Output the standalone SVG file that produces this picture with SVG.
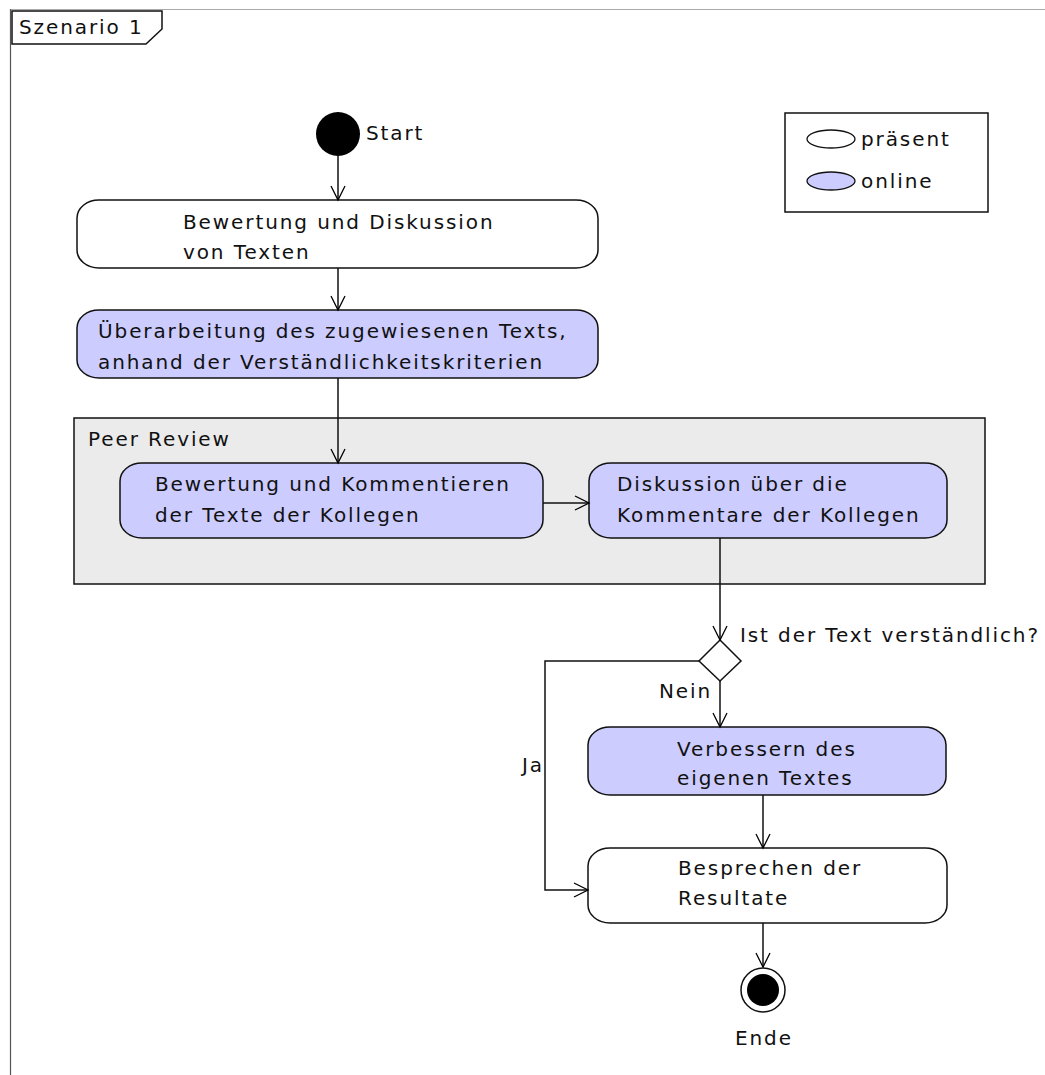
<svg xmlns="http://www.w3.org/2000/svg" width="1045" height="1075" viewBox="0 0 1045 1075">
<defs>
<marker id="arr" viewBox="-16 -9 18 18" markerWidth="18" markerHeight="18" refX="0" refY="0" orient="auto" markerUnits="userSpaceOnUse">
<path d="M-14,-7 L0,0 L-14,7" fill="none" stroke="#000" stroke-width="1.3"/>
</marker>
</defs>
<style>
text{font-family:"DejaVu Sans","Liberation Sans",sans-serif;font-size:20px;letter-spacing:1.9px;fill:#111}
.act{stroke:#111;stroke-width:1.5}
.white{fill:#fff}
.blue{fill:#ccccff}
.con{fill:none;stroke:#111;stroke-width:1.5}
</style>
<rect width="1045" height="1075" fill="#fff"/>
<g id="frame">
<line x1="10" y1="9.5" x2="1045" y2="9.5" stroke="#aaa" stroke-width="1"/>
<line x1="10.5" y1="9" x2="10.5" y2="1075" stroke="#555" stroke-width="1.2"/>
<path d="M12,11 H162 V29 L146,44 H12 Z" fill="#fff" stroke="#111" stroke-width="1.5"/>
<text x="19" y="34">Szenario 1</text>
</g>
<g id="legend">
<rect x="785" y="113" width="203" height="99" fill="#fff" stroke="#111" stroke-width="1.5"/>
<ellipse cx="831" cy="139" rx="24" ry="9" fill="#fff" stroke="#111" stroke-width="1.3"/>
<text x="861" y="146">präsent</text>
<ellipse cx="831" cy="181" rx="24" ry="9" fill="#ccccff" stroke="#111" stroke-width="1.3"/>
<text x="861" y="188">online</text>
</g>
<g id="peer-review">
<rect x="74" y="418" width="911" height="166" fill="#ebebeb" stroke="#111" stroke-width="1.5"/>
<text x="88" y="446">Peer Review</text>
</g>
<g id="start">
<circle cx="338" cy="134" r="22" fill="#000"/>
<text x="366" y="140">Start</text>
</g>
<g id="n1">
<rect class="act white" x="77" y="200" width="521" height="68" rx="22" ry="18"/>
<text x="183" y="229">Bewertung und Diskussion</text>
<text x="183" y="259">von Texten</text>
</g>
<g id="n2">
<rect class="act blue" x="77" y="310" width="521" height="68" rx="22" ry="18"/>
<text x="98" y="338">Überarbeitung des zugewiesenen Texts,</text>
<text x="98" y="369">anhand der Verständlichkeitskriterien</text>
</g>
<g id="n3">
<rect class="act blue" x="120" y="463" width="423" height="75" rx="22" ry="18"/>
<text x="155" y="491">Bewertung und Kommentieren</text>
<text x="155" y="522">der Texte der Kollegen</text>
</g>
<g id="n4">
<rect class="act blue" x="589" y="463" width="358" height="75" rx="22" ry="18"/>
<text x="617" y="491">Diskussion über die</text>
<text x="617" y="522">Kommentare der Kollegen</text>
</g>
<g id="decision">
<path d="M720,640 L741,661 L720,681 L699,661 Z" fill="#fff" stroke="#111" stroke-width="1.5"/>
<text x="740" y="642">Ist der Text verständlich?</text>
</g>
<g id="n5">
<rect class="act blue" x="588" y="727" width="358" height="68" rx="22" ry="18"/>
<text x="677" y="756">Verbessern des</text>
<text x="677" y="785">eigenen Textes</text>
</g>
<g id="n6">
<rect class="act white" x="588" y="848" width="359" height="75" rx="22" ry="18"/>
<text x="678" y="875">Besprechen der</text>
<text x="678" y="905">Resultate</text>
</g>
<g id="end">
<circle cx="763" cy="990" r="22" fill="#fff" stroke="#111" stroke-width="1.5"/>
<circle cx="763" cy="990" r="16" fill="#000"/>
<text x="735" y="1045">Ende</text>
</g>
<g id="connectors">
<line class="con" x1="338" y1="156" x2="338" y2="200" marker-end="url(#arr)"/>
<line class="con" x1="338" y1="268" x2="338" y2="310" marker-end="url(#arr)"/>
<line class="con" x1="338" y1="378" x2="338" y2="463" marker-end="url(#arr)"/>
<line class="con" x1="543" y1="503" x2="589" y2="503" marker-end="url(#arr)"/>
<line class="con" x1="720" y1="538" x2="720" y2="640" marker-end="url(#arr)"/>
<line class="con" x1="720" y1="681" x2="720" y2="727" marker-end="url(#arr)"/>
<polyline class="con" points="699,661 545,661 545,890 588,890" marker-end="url(#arr)"/>
<line class="con" x1="763" y1="795" x2="763" y2="848" marker-end="url(#arr)"/>
<line class="con" x1="763" y1="923" x2="763" y2="967" marker-end="url(#arr)"/>
<text x="659" y="698">Nein</text>
<text x="522" y="772">Ja</text>
</g>
</svg>
